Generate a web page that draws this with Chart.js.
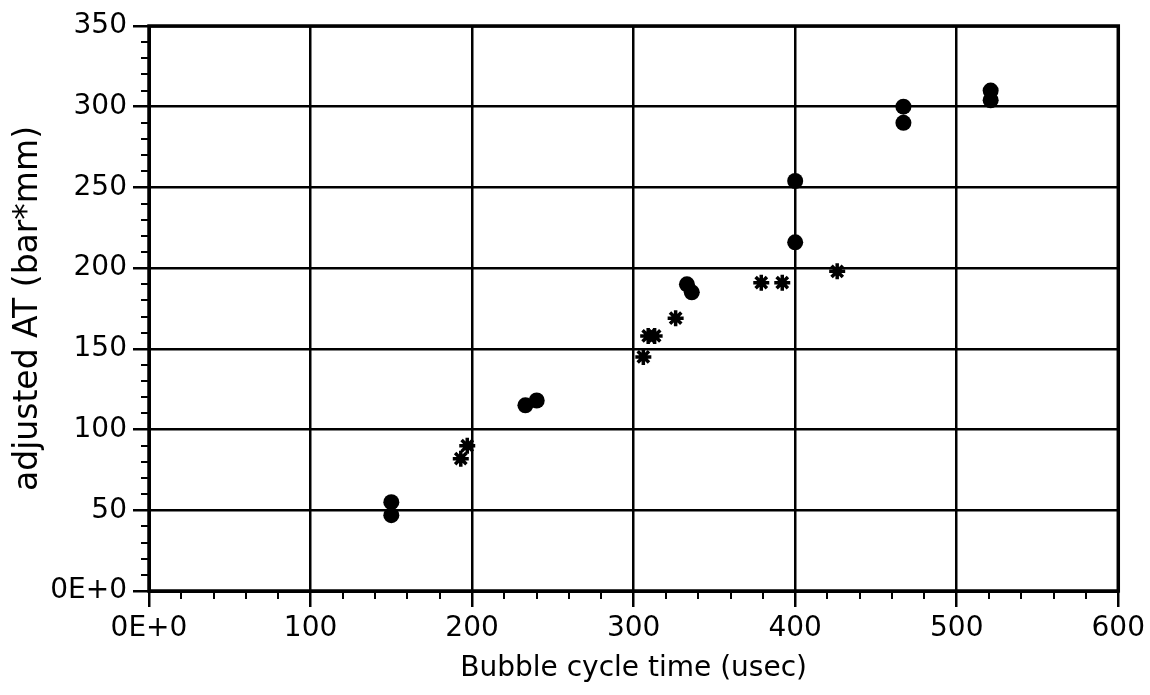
<!DOCTYPE html>
<html>
<head>
<meta charset="utf-8">
<script src="https://cdn.jsdelivr.net/npm/chart.js@4/dist/chart.umd.min.js"></script>
<style>
    html, body { margin: 0; padding: 0; background: #fff; }
    #wrap { width: 1150px; height: 695px; }
</style>
</head>
<body>
<div id="wrap"><canvas id="bubbleChart" width="1150" height="695"></canvas></div>
<script>
// circles
const circleX = [150, 150, 233, 240, 333, 336, 400, 400, 467, 467, 521, 521];
const circleY = [55, 47, 115, 118, 190, 185, 254, 216, 300, 290, 310, 304];

// asterisks
const starX = [193, 197, 306, 309, 313, 326, 379, 392, 426];
const starY = [82, 90, 145, 158, 158, 169, 191, 191, 198];

const xTicks = [0, 100, 200, 300, 400, 500, 600];
const yTicks = [0, 50, 100, 150, 200, 250, 300, 350];

const FONT = "'DejaVu Sans', 'Liberation Sans', Arial, sans-serif";

function toPoints(xs, ys) {
    return xs.map((x, i) => ({ x: x, y: ys[i] }));
}

function tickLabel(v) {
    return v === 0 ? "0E+0" : String(v);
}

// minor ticks + heavy frame
const framePlugin = {
    id: "frame",
    beforeDatasetsDraw(chart) {
        const { ctx, chartArea: a, scales } = chart;
        ctx.save();
        ctx.strokeStyle = "#000";
        ctx.lineWidth = 2;
        ctx.beginPath();
        for (let v = 0; v <= 600; v += 20) {
            if (v % 100 === 0) continue;
            const px = Math.round(scales.x.getPixelForValue(v));
            ctx.moveTo(px, a.bottom);
            ctx.lineTo(px, a.bottom + 8);
        }
        for (let v = 0; v <= 350; v += 10) {
            if (v % 50 === 0) continue;
            const py = Math.round(scales.y.getPixelForValue(v));
            ctx.moveTo(a.left - 8, py);
            ctx.lineTo(a.left, py);
        }
        ctx.stroke();
        ctx.lineWidth = 3.5;
        ctx.strokeRect(a.left, a.top, a.right - a.left, a.bottom - a.top);
        ctx.restore();
    }
};

const ctx = document.getElementById("bubbleChart").getContext("2d");

new Chart(ctx, {
    type: "scatter",
    data: {
        datasets: [{
            label: "circles",
            data: toPoints(circleX, circleY),
            pointStyle: "circle",
            pointRadius: 8,
            backgroundColor: "#000",
            borderColor: "#000",
            borderWidth: 0
        }, {
            label: "asterisks",
            data: toPoints(starX, starY),
            pointStyle: "star",
            pointRadius: 8,
            backgroundColor: "#000",
            borderColor: "#000",
            borderWidth: 3.5
        }]
    },
    options: {
        responsive: false,
        animation: false,
        layout: { padding: { top: 26, right: 31, left: 0, bottom: 0 } },
        plugins: {
            legend: { display: false },
            tooltip: { enabled: false }
        },
        scales: {
            x: {
                type: "linear",
                min: 0,
                max: 600,
                afterBuildTicks: (s) => { s.ticks = xTicks.map(v => ({ value: v })); },
                afterFit: (s) => { s.height = 104; },
                grid: { color: "#000", lineWidth: 2.5, tickLength: 16, tickColor: "#000", tickWidth: 2.5 },
                border: { color: "#000", width: 3 },
                ticks: {
                    color: "#000",
                    padding: 5,
                    maxRotation: 0,
                    font: { family: FONT, size: 28 },
                    callback: tickLabel
                },
                title: {
                    display: true,
                    text: "Bubble cycle time (usec)",
                    color: "#000",
                    font: { family: FONT, size: 28 },
                    padding: { top: 0, bottom: 9 }
                }
            },
            y: {
                type: "linear",
                min: 0,
                max: 350,
                afterBuildTicks: (s) => { s.ticks = yTicks.map(v => ({ value: v })); },
                afterFit: (s) => { s.width = 149; },
                grid: { color: "#000", lineWidth: 2.5, tickLength: 16, tickColor: "#000", tickWidth: 2.5 },
                border: { color: "#000", width: 3 },
                ticks: {
                    color: "#000",
                    padding: 6,
                    font: { family: FONT, size: 28 },
                    callback: tickLabel
                },
                title: {
                    display: true,
                    text: "adjusted AT (bar*mm)",
                    color: "#000",
                    font: { family: FONT, size: 33 },
                    padding: { top: 9, bottom: 0 }
                }
            }
        }
    },
    plugins: [framePlugin]
});
</script>
</body>
</html>
